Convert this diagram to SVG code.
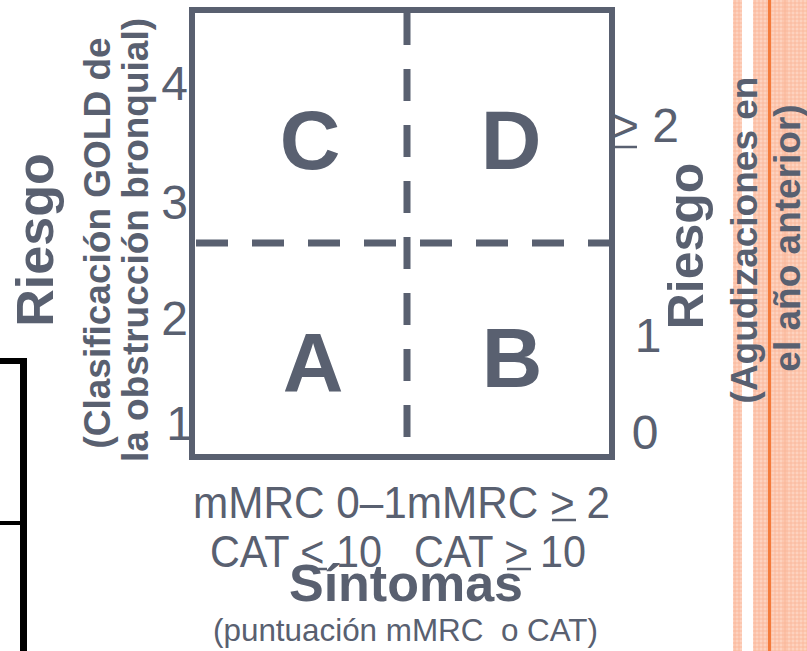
<svg xmlns="http://www.w3.org/2000/svg" width="807" height="651" viewBox="0 0 807 651">
  <style>
    .t { font-family: "Liberation Sans", Arial, sans-serif; fill: #596070; }
    .b { font-weight: bold; }
    .quad { font-size: 84px; font-weight: bold; text-anchor: middle; }
    .num { font-size: 48px; }
    .rule { stroke: #596070; stroke-width: 2.5; }
    .dash { fill: none; stroke: #596070; stroke-width: 7; stroke-dasharray: 32 24; }
  </style>
  <defs>
    <pattern id="grain" width="4" height="4" patternUnits="userSpaceOnUse">
      <rect width="4" height="4" fill="#fcc6ae"/>
      <rect width="2" height="2" fill="#fdd2bf"/>
      <rect x="2" y="2" width="2" height="2" fill="#fbbfa5"/>
    </pattern>
  </defs>

  <rect width="807" height="651" fill="#ffffff"/>

  <!-- decorative side strips -->
  <g id="side-strips">
    <rect x="733" y="0" width="9" height="651" fill="url(#grain)"/>
    <rect x="753" y="0" width="54" height="651" fill="url(#grain)"/>
    <rect x="784" y="0" width="2" height="651" fill="#f9b698" opacity="0.7"/>
    <rect x="768" y="0" width="3" height="651" fill="#f47b3b"/>
  </g>

  <!-- black bracket at the left edge -->
  <g id="left-bracket" fill="#000000">
    <rect x="0" y="358" width="27" height="6"/>
    <rect x="20" y="358" width="7" height="293"/>
    <rect x="0" y="521" width="20" height="4"/>
  </g>

  <!-- quadrant dividers -->
  <g id="connectors">
    <line class="dash" x1="196" y1="243" x2="609" y2="243"/>
    <line class="dash" x1="407" y1="13" x2="407" y2="454"/>
  </g>

  <!-- chart frame -->
  <g id="frame">
    <rect x="192" y="10" width="420" height="447" fill="none" stroke="#596070" stroke-width="6"/>
  </g>

  <!-- quadrants -->
  <g id="quadrant-C"><text class="t quad" x="310" y="169">C</text></g>
  <g id="quadrant-D"><text class="t quad" x="511" y="169">D</text></g>
  <g id="quadrant-A"><text class="t quad" x="313" y="392">A</text></g>
  <g id="quadrant-B"><text class="t quad" x="512" y="387">B</text></g>

  <!-- left scale: GOLD grades -->
  <g id="left-scale" class="t num" text-anchor="end">
    <text class="t num" x="188" y="100">4</text>
    <text class="t num" x="188" y="219">3</text>
    <text class="t num" x="188" y="335">2</text>
    <text class="t num" x="193" y="440">1</text>
  </g>

  <!-- right scale: exacerbations -->
  <g id="right-scale">
    <text class="t num" x="611" y="142" style="white-space:pre">&gt; 2</text>
    <line class="rule" x1="613" y1="147" x2="637" y2="147"/>
    <text class="t num" x="648" y="352" text-anchor="middle">1</text>
    <text class="t num" x="645" y="449" text-anchor="middle">0</text>
  </g>

  <!-- left axis title -->
  <g id="left-axis-title">
    <text class="t b" font-size="52" text-anchor="middle" transform="translate(53,240) rotate(-90)">Riesgo</text>
    <text class="t b" font-size="37" text-anchor="middle" transform="translate(110,243) rotate(-90)">(Clasificación GOLD de</text>
    <text class="t b" font-size="37" text-anchor="middle" transform="translate(148,240) rotate(-90)">la obstrucción bronquial)</text>
  </g>

  <!-- right axis title -->
  <g id="right-axis-title">
    <text class="t b" font-size="50" text-anchor="middle" transform="translate(703,246) rotate(-90)">Riesgo</text>
    <text class="t b" font-size="37" text-anchor="middle" transform="translate(757,240) rotate(-90)">(Agudizaciones en</text>
    <text class="t b" font-size="37" text-anchor="middle" transform="translate(800,238) rotate(-90)">el año anterior)</text>
  </g>

  <!-- bottom axis: symptom categories and title -->
  <g id="bottom-axis">
    <text class="t" font-size="45" x="193" y="518" textLength="417" lengthAdjust="spacingAndGlyphs">mMRC 0–1mMRC &gt; 2</text>
    <line class="rule" x1="552" y1="520" x2="576" y2="520"/>
    <text class="t" font-size="45" x="210" y="567" textLength="172" lengthAdjust="spacingAndGlyphs">CAT &lt; 10</text>
    <line class="rule" x1="303" y1="569" x2="327" y2="569"/>
    <text class="t" font-size="45" x="414" y="567" textLength="172" lengthAdjust="spacingAndGlyphs">CAT &gt; 10</text>
    <line class="rule" x1="507" y1="569" x2="531" y2="569"/>
    <text class="t b" font-size="52" x="406" y="601" text-anchor="middle">Síntomas</text>
    <text class="t" font-size="32" x="213" y="641" textLength="385" lengthAdjust="spacingAndGlyphs" style="white-space:pre">(puntuación mMRC  o CAT)</text>
  </g>
</svg>
